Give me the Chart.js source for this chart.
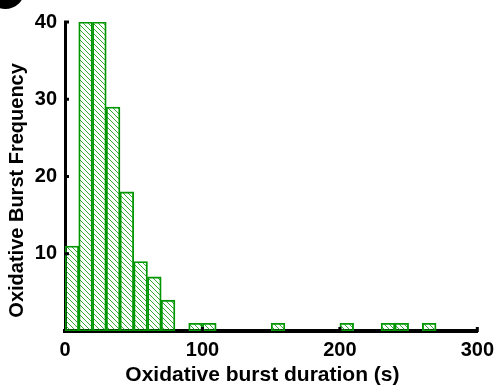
<!DOCTYPE html>
<html>
<head>
<meta charset="utf-8">
<script src="https://cdn.jsdelivr.net/npm/chart.js@4.4.1/dist/chart.umd.min.js"></script>
<style>
  html, body { margin: 0; padding: 0; background: #fff; }
  #wrap { width: 501px; height: 387px; position: relative; }
</style>
</head>
<body>
<div id="wrap"><canvas id="histChart"></canvas></div>
<script>
// bin starts (s) and counts, 10 s bins
const binStarts = [0, 10, 20, 30, 40, 50, 60, 70, 90, 100, 150, 200, 230, 240, 260];
const counts    = [11, 40, 40, 29, 18, 9, 7, 4, 1, 1, 1, 1, 1, 1, 1];
const binWidth = 10;
const xTicks = [0, 100, 200, 300];
const yTicks = [10, 20, 30, 40];

const green = 'rgb(0,150,0)';

function hatch() {
    const c = document.createElement('canvas');
    c.width = 5; c.height = 5;
    const g = c.getContext('2d');
    g.strokeStyle = green;
    g.lineWidth = 0.8;
    g.beginPath();
    g.moveTo(-1, -1); g.lineTo(6, 6);
    g.moveTo(-1, 4); g.lineTo(1, 6);
    g.moveTo(4, -1); g.lineTo(6, 1);
    g.stroke();
    return g.createPattern(c, 'repeat');
}

const font = { family: 'Liberation Sans, Arial, sans-serif', weight: 'bold', size: 20 };

// inward axis ticks + panel dot
const extras = {
    id: 'extras',
    afterDraw(chart) {
        const ctx = chart.ctx;
        const xs = chart.scales.x, ys = chart.scales.y;
        ctx.save();
        ctx.strokeStyle = '#000';
        ctx.lineWidth = 3;
        yTicks.forEach(v => {
            const py = ys.getPixelForValue(v);
            ctx.beginPath(); ctx.moveTo(xs.left - 1, py); ctx.lineTo(xs.left + 4, py); ctx.stroke();
        });
        xTicks.slice(1).forEach(v => {
            const px = xs.getPixelForValue(v);
            ctx.beginPath(); ctx.moveTo(px, ys.bottom + 1); ctx.lineTo(px, ys.bottom - 4); ctx.stroke();
        });
        ctx.fillStyle = '#000';
        ctx.beginPath();
        ctx.arc(5, -11, 20, 0, Math.PI * 2);
        ctx.fill();
        ctx.restore();
    }
};

new Chart(document.getElementById('histChart'), {
    type: 'bar',
    data: {
        datasets: [{
            data: binStarts.map((s, i) => ({ x: s + binWidth / 2, y: counts[i] })),
            backgroundColor: hatch(),
            borderColor: green,
            borderWidth: 1.2,
            borderSkipped: false,
            barPercentage: 1,
            categoryPercentage: 1
        }]
    },
    options: {
        responsive: true,
        maintainAspectRatio: false,
        animation: false,
        layout: { padding: { left: 0, right: 16, top: 22, bottom: 0 } },
        plugins: { legend: { display: false }, tooltip: { enabled: false } },
        scales: {
            x: {
                type: 'linear',
                offset: false,
                min: 0, max: 300,
                afterBuildTicks: s => { s.ticks = xTicks.map(v => ({ value: v })); },
                afterFit: s => { s.height = 56; },
                grid: { display: false, offset: false, drawTicks: false },
                border: { display: true, color: '#000', width: 4 },
                ticks: { color: '#000', font: font, padding: 7, maxRotation: 0 },
                title: { display: true, text: 'Oxidative burst duration (s)\u00a0\u00a0\u00a0', color: '#000', font: { ...font, size: 21 }, padding: { top: 0, bottom: -1 } }
            },
            y: {
                min: 0, max: 40,
                afterBuildTicks: s => { s.ticks = yTicks.map(v => ({ value: v })); },
                afterFit: s => { s.width = 65; },
                grid: { display: false, drawTicks: false },
                border: { display: true, color: '#000', width: 3 },
                ticks: { color: '#000', font: font, padding: 8 },
                title: { display: true, text: 'Oxidative Burst Frequency\u00a0\u00a0\u00a0\u00a0\u00a0', color: '#000', font: { ...font, size: 20 }, padding: { top: 5, bottom: 0 } }
            }
        }
    },
    plugins: [extras]
});
</script>
</body>
</html>
